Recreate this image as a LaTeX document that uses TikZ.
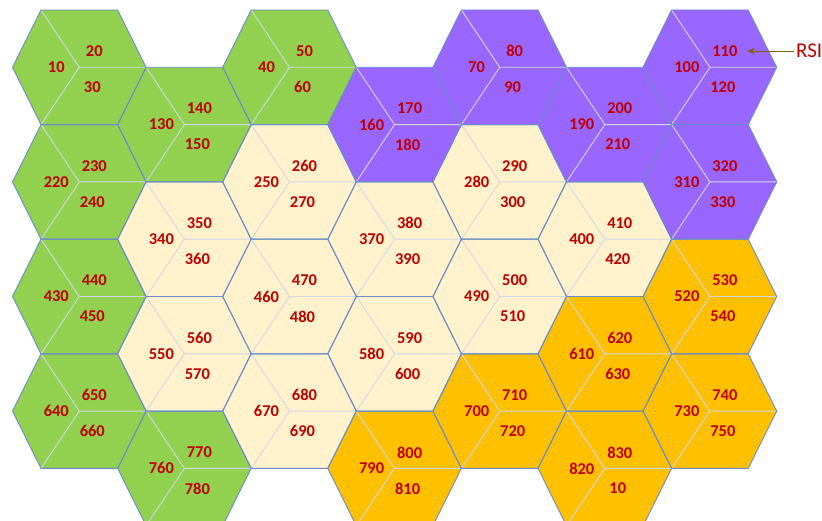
\documentclass[tikz,border=0pt]{standalone}
\usepackage{fontspec}
\setmainfont{Carlito}
\usetikzlibrary{arrows.meta}
\definecolor{hg}{HTML}{92D050}
\definecolor{hc}{HTML}{FFF2CC}
\definecolor{hp}{HTML}{9966FF}
\definecolor{ho}{HTML}{FFC000}
\definecolor{edgeblue}{HTML}{6A8CCB}
\definecolor{secgray}{HTML}{D0D8E6}
\definecolor{lblred}{HTML}{C00000}
\definecolor{arrowbrown}{HTML}{7F6000}
\begin{document}
\begin{tikzpicture}[x=1pt,y=-1pt,
  hexedge/.style={draw=edgeblue,line width=0.9pt,line join=round},
  secline/.style={draw=secgray,line width=0.9pt},
  lbl/.style={text=lblred,font=\fontsize{16.5}{17}\selectfont\bfseries,inner sep=0pt},
  rsilbl/.style={text=lblred,font=\fontsize{21}{21}\selectfont,inner sep=0pt,anchor=west},
  rsiarrow/.style={draw=arrowbrown,line width=0.9pt,-{Stealth[length=8pt,width=6pt]}}]
\useasboundingbox (0,0) rectangle (822,521);
\clip (0,0) rectangle (822,521);
\def\ha{66.8}\def\hb{38.3}\def\hh{57.3}
\foreach \c/\r/\col/\la/\lb/\lc in {
  0/0/hg/10/20/30, 0/1/hg/220/230/240, 0/2/hg/430/440/450, 0/3/hg/640/650/660,
  1/0/hg/130/140/150, 1/1/hc/340/350/360, 1/2/hc/550/560/570, 1/3/hg/760/770/780,
  2/0/hg/40/50/60, 2/1/hc/250/260/270, 2/2/hc/460/470/480, 2/3/hc/670/680/690,
  3/0/hp/160/170/180, 3/1/hc/370/380/390, 3/2/hc/580/590/600, 3/3/ho/790/800/810,
  4/0/hp/70/80/90, 4/1/hc/280/290/300, 4/2/hc/490/500/510, 4/3/ho/700/710/720,
  5/0/hp/190/200/210, 5/1/hc/400/410/420, 5/2/ho/610/620/630, 5/3/ho/820/830/10,
  6/0/hp/100/110/120, 6/1/hp/310/320/330, 6/2/ho/520/530/540, 6/3/ho/730/740/750}{
  \pgfmathsetmacro\cx{79.3+105.1*\c}
  \pgfmathsetmacro\cy{67.3+114.6*\r+57.3*mod(\c,2)}
  \begin{scope}[shift={(\cx,\cy)}]
    \fill[\col] (-\ha,0) -- (-\hb,-\hh) -- (\hb,-\hh) -- (\ha,0) -- (\hb,\hh) -- (-\hb,\hh) -- cycle;
    \draw[secline] (0,0) -- (\ha,0) (0,0) -- (-\hb,-\hh) (0,0) -- (-\hb,\hh);
    \node[lbl] (t\c\r a) at (-23,0) {\la};
    \node[lbl] (t\c\r b) at (15,-16) {\lb};
    \node[lbl] (t\c\r c) at (13,20) {\lc};
  \end{scope}
}
\foreach \c in {0,...,6}{
  \foreach \r in {0,...,3}{
    \pgfmathsetmacro\cx{79.3+105.1*\c}
    \pgfmathsetmacro\cy{67.3+114.6*\r+57.3*mod(\c,2)}
    \begin{scope}[shift={(\cx,\cy)}]
      \draw[hexedge] (-\ha,0) -- (-\hb,-\hh) -- (\hb,-\hh) -- (\ha,0) -- (\hb,\hh) -- (-\hb,\hh) -- cycle;
    \end{scope}
  }
}
\node[rsilbl] (rsi) at (796,51) {RSI};
\coordinate (rsitip) at (747,51);
\draw[rsiarrow] ([xshift=-2pt]rsi.west) -- (rsitip);
\end{tikzpicture}
\end{document}
